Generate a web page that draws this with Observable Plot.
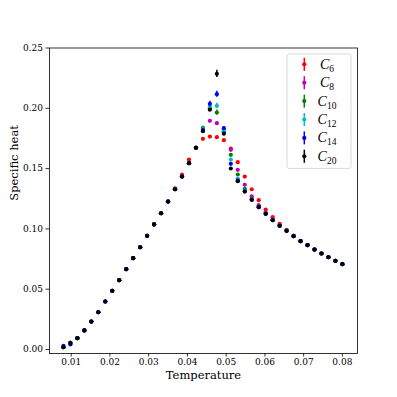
<!DOCTYPE html>
<html>
<head>
<meta charset="utf-8">
<script src="https://cdn.jsdelivr.net/npm/d3@7"></script>
<script src="https://cdn.jsdelivr.net/npm/@observablehq/plot@0.6"></script>
<style>
  html, body { margin: 0; padding: 0; background: #fff; }
  #chart { width: 397px; height: 397px; }
</style>
</head>
<body>
<div id="chart"></div>
<script>
// ---- data ----
const temperature = [0.0080, 0.0098, 0.0116, 0.0134, 0.0152, 0.0170, 0.0188, 0.0206, 0.0224, 0.0242,
  0.0260, 0.0278, 0.0296, 0.0314, 0.0332, 0.0350, 0.0368, 0.0386, 0.0404, 0.0422,
  0.0440, 0.0458, 0.0476, 0.0494, 0.0512, 0.0530, 0.0548, 0.0566, 0.0584, 0.0602,
  0.0620, 0.0638, 0.0656, 0.0674, 0.0692, 0.0710, 0.0728, 0.0746, 0.0764, 0.0782, 0.0800];

const seriesNames = ["C6", "C8", "C10", "C12", "C14", "C20"];
const seriesSubs = ["6", "8", "10", "12", "14", "20"];
const seriesColors = ["#ff0000", "#bf00bf", "#008000", "#00bfbf", "#0000ff", "#000000"];

const c6 = [0.0019, 0.0055, 0.0094, 0.0158, 0.0232, 0.0309, 0.0398, 0.0487, 0.0575, 0.0666,
  0.0757, 0.0848, 0.0943, 0.1037, 0.1130, 0.1228, 0.1337, 0.1450, 0.1575, 0.1675,
  0.1747, 0.1766, 0.1761, 0.1736, 0.1665, 0.1553, 0.1434, 0.1329, 0.1238, 0.1161,
  0.1097, 0.1042, 0.0992, 0.0945, 0.0902, 0.0867, 0.0831, 0.0797, 0.0766, 0.0736, 0.0709];
const c8 = [0.0019, 0.0055, 0.0094, 0.0158, 0.0232, 0.0309, 0.0398, 0.0487, 0.0575, 0.0666,
  0.0757, 0.0848, 0.0943, 0.1037, 0.1130, 0.1227, 0.1330, 0.1437, 0.1547, 0.1672,
  0.1820, 0.1896, 0.1877, 0.1800, 0.1656, 0.1490, 0.1366, 0.1271, 0.1197, 0.1140,
  0.1082, 0.1032, 0.0987, 0.0942, 0.0899, 0.0866, 0.0830, 0.0796, 0.0765, 0.0735, 0.0708];
const c10 = [0.0019, 0.0055, 0.0094, 0.0158, 0.0232, 0.0309, 0.0398, 0.0487, 0.0575, 0.0666,
  0.0757, 0.0848, 0.0943, 0.1037, 0.1130, 0.1227, 0.1329, 0.1435, 0.1545, 0.1672,
  0.1838, 0.2000, 0.1965, 0.1810, 0.1614, 0.1451, 0.1333, 0.1250, 0.1185, 0.1128,
  0.1074, 0.1027, 0.0984, 0.0940, 0.0898, 0.0865, 0.0829, 0.0796, 0.0765, 0.0735, 0.0708];
const c12 = [0.0019, 0.0055, 0.0094, 0.0158, 0.0232, 0.0309, 0.0398, 0.0487, 0.0575, 0.0666,
  0.0757, 0.0848, 0.0943, 0.1037, 0.1130, 0.1227, 0.1329, 0.1434, 0.1545, 0.1672,
  0.1830, 0.2015, 0.2020, 0.1815, 0.1575, 0.1415, 0.1318, 0.1244, 0.1181, 0.1126,
  0.1073, 0.1026, 0.0984, 0.0940, 0.0898, 0.0865, 0.0829, 0.0796, 0.0765, 0.0735, 0.0708];
const c14 = [0.0030, 0.0042, 0.0094, 0.0158, 0.0232, 0.0309, 0.0398, 0.0487, 0.0575, 0.0666,
  0.0757, 0.0848, 0.0943, 0.1037, 0.1130, 0.1227, 0.1329, 0.1434, 0.1545, 0.1672,
  0.1820, 0.2037, 0.2117, 0.1835, 0.1540, 0.1402, 0.1311, 0.1242, 0.1180, 0.1125,
  0.1072, 0.1026, 0.0984, 0.0940, 0.0898, 0.0865, 0.0829, 0.0796, 0.0765, 0.0735, 0.0708];
const c20 = [0.0019, 0.0055, 0.0094, 0.0158, 0.0232, 0.0309, 0.0398, 0.0487, 0.0575, 0.0666,
  0.0757, 0.0848, 0.0943, 0.1037, 0.1130, 0.1227, 0.1329, 0.1434, 0.1545, 0.1672,
  0.1810, 0.1988, 0.2286, 0.1789, 0.1501, 0.1396, 0.1310, 0.1241, 0.1180, 0.1125,
  0.1072, 0.1026, 0.0984, 0.0940, 0.0898, 0.0865, 0.0829, 0.0796, 0.0765, 0.0735, 0.0708];

// error bar half-widths (only visible near the peak)
const e6 = [0,0,0,0,0,0,0,0,0,0, 0,0,0,0,0,0,0,0,0,0.0005, 0.0008,0.0008,0.0008,0.0008,0.0008,0.0005,0,0,0,0, 0,0,0,0,0,0,0,0,0,0,0];
const e8 = [0,0,0,0,0,0,0,0,0,0, 0,0,0,0,0,0,0,0,0,0.0005, 0.0010,0.0010,0.0012,0.0010,0.0008,0.0005,0,0,0,0, 0,0,0,0,0,0,0,0,0,0,0];
const e10 = [0,0,0,0,0,0,0,0,0,0, 0,0,0,0,0,0,0,0,0,0.0005, 0.0014,0.0016,0.0020,0.0012,0.0008,0.0006,0,0,0,0, 0,0,0,0,0,0,0,0,0,0,0];
const e12 = [0,0,0,0,0,0,0,0,0,0, 0,0,0,0,0,0,0,0,0,0.0005, 0.0014,0.0018,0.0022,0.0012,0.0008,0.0006,0,0,0,0, 0,0,0,0,0,0,0,0,0,0,0];
const e14 = [0,0,0,0,0,0,0,0,0,0, 0,0,0,0,0,0,0,0,0,0.0005, 0.0014,0.0022,0.0025,0.0015,0.0008,0.0006,0,0,0,0, 0,0,0,0,0,0,0,0,0,0,0];
const e20 = [0,0,0,0,0,0,0,0,0,0, 0,0,0,0,0,0,0,0,0,0.0005, 0.0012,0.0015,0.0030,0.0015,0.0008,0.0006,0,0,0,0, 0,0,0,0,0,0,0,0,0,0,0];

const xTicks = [0.01, 0.02, 0.03, 0.04, 0.05, 0.06, 0.07, 0.08];
const yTicks = [0.00, 0.05, 0.10, 0.15, 0.20, 0.25];
const xLabel = "Temperature";
const yLabel = "Specific heat";

// ---- build table ----
const values = [c6, c8, c10, c12, c14, c20];
const errors = [e6, e8, e10, e12, e14, e20];
const rows = seriesNames.flatMap((s, i) =>
  temperature.map((t, k) => ({ series: s, T: t, C: values[i][k], err: errors[i][k] })));

const serif = "'DejaVu Serif', serif";

const marks = [
  Plot.axisX({ ticks: xTicks, tickFormat: d3.format(".2f"), tickSize: 3.5, tickPadding: 2, label: null,
    fontSize: 9, fontFamily: serif, stroke: "#000", strokeWidth: 0.8 }),
  Plot.axisY({ ticks: yTicks, tickFormat: d3.format(".2f"), tickSize: 3.5, tickPadding: 3, label: null,
    fontSize: 9, fontFamily: serif, stroke: "#000", strokeWidth: 0.8 }),
  Plot.text([xLabel], { frameAnchor: "bottom", dy: 25, fontSize: 11.5, fontFamily: serif, fill: "#000" }),
  Plot.text([yLabel], { frameAnchor: "left", rotate: -90, dx: -35, fontSize: 11.5, fontFamily: serif, fill: "#000" })
];
seriesNames.forEach((s, i) => {
  const d = rows.filter(r => r.series === s);
  marks.push(Plot.ruleX(d.filter(r => r.err > 0), {
    x: "T", y1: r => r.C - r.err, y2: r => r.C + r.err, stroke: seriesColors[i], strokeWidth: 1.5 }));
  marks.push(Plot.dot(d, { x: "T", y: "C", r: 2.1, fill: seriesColors[i], stroke: "none" }));
});
marks.push(Plot.frame({ stroke: "#000", strokeWidth: 0.8 }));

const chart = Plot.plot({
  width: 397, height: 397,
  marginLeft: 49, marginRight: 40, marginTop: 47.5, marginBottom: 44,
  style: { fontFamily: serif, background: "#fff", color: "#000", overflow: "visible" },
  x: { domain: [0.0044, 0.0839] },
  y: { domain: [-0.0033, 0.25] },
  marks
});
document.getElementById("chart").appendChild(chart);

// ---- legend (inside the frame, upper right) ----
const [, fx1] = chart.scale("x").range;
const [, fy1] = chart.scale("y").range; // top of frame
const svg = d3.select(chart);
const bw = 64, rowH = 18.4;
const bx = fx1 - 6 - bw, by = fy1 + 6.5;
const lg = svg.append("g");
lg.append("rect").attr("x", bx).attr("y", by).attr("width", bw).attr("height", rowH * seriesNames.length + 4)
  .attr("rx", 2).attr("fill", "#fff").attr("fill-opacity", 0.8).attr("stroke", "#d0d0d0").attr("stroke-width", 0.8);
seriesNames.forEach((s, i) => {
  const cy = by + 10.3 + i * rowH;
  const mx = bx + 17.3;
  lg.append("line").attr("x1", mx).attr("x2", mx).attr("y1", cy - 6.5).attr("y2", cy + 6.5)
    .attr("stroke", seriesColors[i]).attr("stroke-width", 1.5);
  lg.append("circle").attr("cx", mx).attr("cy", cy).attr("r", 2.1).attr("fill", seriesColors[i]);
  const t = lg.append("text").attr("x", bx + 40).attr("y", cy + 4.5)
    .attr("font-family", "'Liberation Serif', serif").attr("font-size", 14).attr("fill", "#000");
  t.append("tspan").attr("font-style", "italic").text("C");
  t.append("tspan").attr("font-size", 9.5).attr("dy", 3).text(seriesSubs[i]);
});
</script>
</body>
</html>
